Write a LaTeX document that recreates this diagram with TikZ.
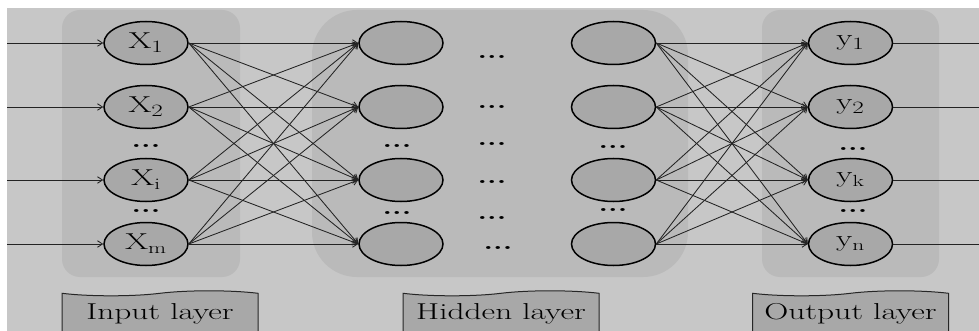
\documentclass[tikz,border=0pt]{standalone}
\usepackage{fontspec}
\usepackage{graphicx}
\usetikzlibrary{shapes.geometric,shapes.symbols,arrows.meta}

\definecolor{canvas}{RGB}{199,199,199}
\definecolor{panel}{RGB}{186,186,186}
\definecolor{cellfill}{RGB}{168,168,168}
\definecolor{wire}{RGB}{35,35,35}

% glyphs are widened to follow the stretched layout
\newcommand{\hstretch}[1]{\scalebox{1.45}[1]{#1}}

\tikzset{
  neuron/.style={ellipse, draw=black, line width=1.5pt, fill=cellfill,
    minimum width=84pt, minimum height=43pt, inner sep=0pt,
    font=\fontsize{23}{26}\selectfont},
  wire/.style={draw=wire, line width=0.85pt},
  tipped/.style={wire, -{Straight Barb[length=5pt,width=6.5pt]}},
  panelbox/.style={fill=panel, draw=none},
  banner/.style={tape, tape bend top=in and out, tape bend bottom=none,
    tape bend height=5pt, draw=black!85, line width=1pt, fill=cellfill,
    minimum width=196pt, minimum height=70pt, inner sep=0pt},
  bannertext/.style={font=\fontsize{23}{26}\selectfont, inner sep=0pt},
  ellip/.style={font=\fontsize{21}{24}\selectfont\bfseries, inner sep=0pt}
}

\begin{document}
\begin{tikzpicture}[x=1pt,y=-1pt]
\useasboundingbox (0,0) rectangle (979,331);
\fill[white] (0,0) rectangle (979,331);
\fill[canvas] (7,8) rectangle (979,331);

% layer panels
\fill[panelbox, rounded corners=18pt] (62,10) rectangle (240,277);
\fill[panelbox, rounded corners=45pt] (312,10) rectangle (688,277);
\fill[panelbox, rounded corners=18pt] (762,10) rectangle (939,277);

% input neurons
\node[neuron] (in1) at (146,43)  {\hstretch{$\mathrm{X}_{1}$}};
\node[neuron] (in2) at (146,107) {\hstretch{$\mathrm{X}_{2}$}};
\node[neuron] (in3) at (146,180) {\hstretch{$\mathrm{X}_{\mathrm{i}}$}};
\node[neuron] (in4) at (146,244) {\hstretch{$\mathrm{X}_{\mathrm{m}}$}};

% hidden neurons, first and last column
\foreach \r/\yy in {1/43,2/107,3/180,4/244} {
  \node[neuron] (ha\r) at (401,\yy) {};
  \node[neuron] (hb\r) at (613.5,\yy) {};
}

% output neurons
\node[neuron] (out1) at (850.5,43)  {\hstretch{$\mathrm{y}_{1}$}};
\node[neuron] (out2) at (850.5,107) {\hstretch{$\mathrm{y}_{2}$}};
\node[neuron] (out3) at (850.5,180) {\hstretch{$\mathrm{y}_{\mathrm{k}}$}};
\node[neuron] (out4) at (850.5,244) {\hstretch{$\mathrm{y}_{\mathrm{n}}$}};

% ellipsis marks
\node[ellip] (dIn1)  at (146,146) {\hstretch{...}};
\node[ellip] (dIn2)  at (146,211) {\hstretch{...}};
\node[ellip] (dHa1)  at (397,146) {\hstretch{...}};
\node[ellip] (dHa2)  at (397,213) {\hstretch{...}};
\node[ellip] (dHb1)  at (613,147) {\hstretch{...}};
\node[ellip] (dHb2)  at (613,210) {\hstretch{...}};
\node[ellip] (dOut1) at (853,149) {\hstretch{...}};
\node[ellip] (dOut2) at (853,211) {\hstretch{...}};
\node[ellip] (dM1) at (492,57)  {\hstretch{...}};
\node[ellip] (dM2) at (492,107) {\hstretch{...}};
\node[ellip] (dM3) at (492,144) {\hstretch{...}};
\node[ellip] (dM4) at (492,182) {\hstretch{...}};
\node[ellip] (dM5) at (492,218) {\hstretch{...}};
\node[ellip] (dM6) at (498,248) {\hstretch{...}};

% incoming signals and outgoing results
\foreach \r/\yy in {1/43,2/107,3/180,4/244} {
  \coordinate (src\r) at (7,\yy);
  \coordinate (dst\r) at (979,\yy);
  \draw[tipped] (src\r) -- (in\r.west);
  \draw[wire] (out\r.east) -- (dst\r);
}

% fully connected links
\foreach \i in {1,...,4} {
  \foreach \j in {1,...,4} {
    \draw[tipped] (in\i.east) -- (ha\j.west);
    \draw[tipped] (hb\i.east) -- (out\j.west);
  }
}

% layer captions
\node[banner, anchor=north] (capIn)  at (160,293) {};
\node[banner, anchor=north] (capHid) at (501,293) {};
\node[banner, anchor=north] (capOut) at (850.5,293) {};
\node[bannertext] (txtIn)  at (160,314)   {\hstretch{Input layer}};
\node[bannertext] (txtHid) at (501,314)   {\hstretch{Hidden layer}};
\node[bannertext] (txtOut) at (850.5,314) {\hstretch{Output layer}};
\end{tikzpicture}
\end{document}
